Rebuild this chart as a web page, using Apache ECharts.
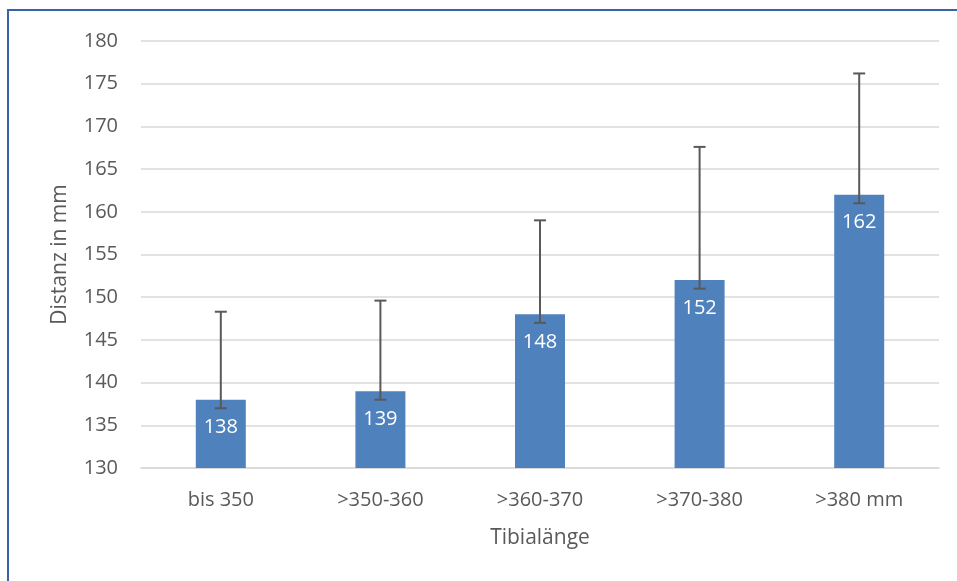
<!DOCTYPE html>
<html>
<head>
<meta charset="utf-8">
<script src="https://cdn.jsdelivr.net/npm/echarts@6/dist/echarts.min.js"></script>
<style>
html,body{margin:0;padding:0;background:#fff;overflow:hidden;}
#chart{width:957px;height:581px;}
</style>
</head>
<body>
<div id="chart"></div>
<script>
const categories = ['bis 350', '>350-360', '>360-370', '>370-380', '>380 mm'];
const means = [138, 139, 148, 152, 162];
const errLow = [137, 138, 147, 151, 161];
const errHigh = [148.3, 149.6, 159.0, 167.6, 176.2];
const yTicks = { min: 130, max: 180, interval: 5 };

const FONT = 'Open Sans';
const TXT = '#595959';

const chart = echarts.init(document.getElementById('chart'));
chart.setOption({
  animation: false,
  backgroundColor: '#fff',
  grid: { left: 141, right: 18, top: 41, bottom: 113 },
  graphic: [{
    type: 'rect', z: 100, silent: true,
    shape: { x: 8, y: 10, width: 1200, height: 1200 },
    style: { fill: 'none', stroke: '#3A62A6', lineWidth: 2 }
  }],
  xAxis: {
    type: 'category',
    data: categories,
    name: 'Tibialänge',
    nameLocation: 'middle',
    nameGap: 60,
    nameTextStyle: { fontFamily: FONT, fontSize: 21, color: TXT },
    axisLine: { show: true, lineStyle: { color: '#D9D9D9', width: 1.5 } },
    axisTick: { show: false },
    axisLabel: { fontFamily: FONT, fontSize: 20, color: TXT, margin: 22 }
  },
  yAxis: {
    type: 'value',
    min: yTicks.min, max: yTicks.max, interval: yTicks.interval,
    name: 'Distanz in mm',
    nameLocation: 'middle',
    nameGap: 70,
    nameTextStyle: { fontFamily: FONT, fontSize: 21, color: TXT },
    axisLine: { show: false },
    axisTick: { show: false },
    axisLabel: { fontFamily: FONT, fontSize: 20, color: TXT, margin: 23 },
    splitLine: { lineStyle: { color: '#D9D9D9', width: 1.5 } }
  },
  series: [{
    type: 'bar',
    data: means,
    barWidth: 50,
    itemStyle: { color: '#4F81BD' },
    label: {
      show: true, position: 'insideTop', distance: 18,
      color: '#fff', fontFamily: FONT, fontSize: 20
    }
  }, {
    type: 'custom',
    z: 10,
    data: categories.map((c, i) => [i, errLow[i], errHigh[i]]),
    renderItem: function (params, api) {
      const x = api.value(0);
      const lo = api.coord([x, api.value(1)]);
      const hi = api.coord([x, api.value(2)]);
      const hw = 6;
      const st = { stroke: '#595959', lineWidth: 2 };
      return {
        type: 'group',
        children: [
          { type: 'line', shape: { x1: lo[0], y1: lo[1], x2: hi[0], y2: hi[1] }, style: st },
          { type: 'line', shape: { x1: lo[0] - hw, y1: lo[1], x2: lo[0] + hw, y2: lo[1] }, style: st },
          { type: 'line', shape: { x1: hi[0] - hw, y1: hi[1], x2: hi[0] + hw, y2: hi[1] }, style: st }
        ]
      };
    }
  }]
});
</script>
</body>
</html>
